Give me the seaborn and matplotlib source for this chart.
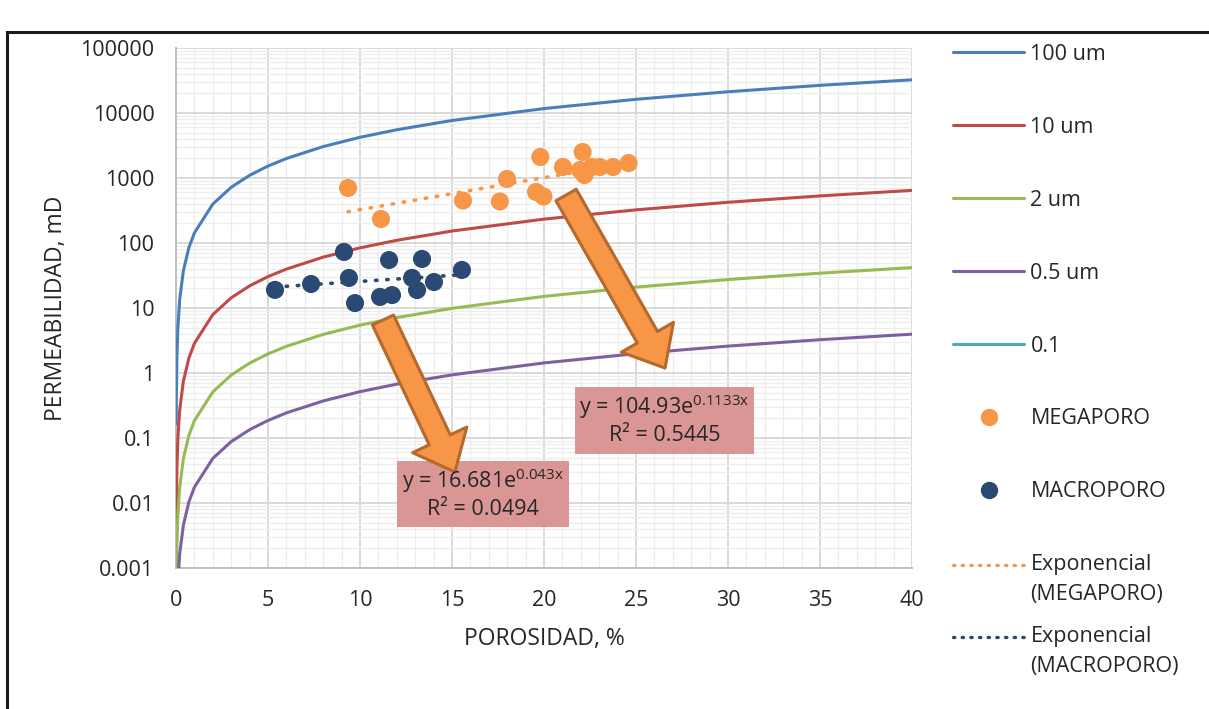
import numpy as np
import pandas as pd
import matplotlib
matplotlib.use("Agg")
import matplotlib.pyplot as plt
import seaborn as sns
from matplotlib.lines import Line2D
from matplotlib.patches import Rectangle
from matplotlib.legend_handler import HandlerLine2D
from matplotlib.ticker import FixedLocator, MultipleLocator, LogLocator, NullFormatter

# ---------------- data ----------------
phi = [0.01, 0.02, 0.05, 0.1, 0.2, 0.4, 0.7, 1, 2, 3, 4, 5, 6, 8, 10, 12, 15, 20, 25, 30, 35, 40]
k_100um = [0.165, 0.457, 1.76, 4.87, 13.5, 37.3, 84.9, 143, 397, 720, 1100, 1526, 1995, 3044,
           4226, 5525, 7669, 11700, 16240, 21230, 26630, 32400]
k_10um = [0.00329, 0.0091, 0.035, 0.0969, 0.268, 0.743, 1.69, 2.86, 7.91, 14.35, 21.9, 30.4,
          39.7, 60.6, 84.2, 110, 152.8, 233, 323.6, 423, 530, 645]
k_2um = [0.000213, 0.00059, 0.00227, 0.00627, 0.0174, 0.0481, 0.1095, 0.185, 0.512, 0.929,
         1.418, 1.968, 2.573, 3.926, 5.45, 7.12, 9.89, 15.09, 20.95, 27.38, 34.35, 41.8]
k_05um = [0.0000202, 0.0000558, 0.000215, 0.000594, 0.001645, 0.00455, 0.01037, 0.0175, 0.0485,
          0.088, 0.1342, 0.1863, 0.2435, 0.3716, 0.516, 0.6745, 0.936, 1.429, 1.983, 2.592,
          3.252, 3.957]
curve_names = ["100 um", "10 um", "2 um", "0.5 um", "0.1"]

mega_phi = [9.35, 11.14, 15.6, 17.6, 17.99, 19.8, 19.57, 19.97, 21.03, 22.1, 21.96, 22.2,
            22.6, 23.04, 23.75, 24.6]
mega_k = [702, 234, 450, 435, 966, 2106, 610, 520, 1476, 2512, 1328, 1112, 1476, 1476, 1476, 1700]

macro_phi = [5.38, 7.34, 9.13, 9.4, 9.73, 11.09, 11.74, 11.58, 13.37, 12.83, 13.1, 14.02, 15.54]
macro_k = [19, 23.4, 72.8, 29, 11.9, 14.8, 15.8, 54.7, 56.8, 29, 18.9, 25.1, 38.5]

# exponential trend coefficients (as printed on chart)
mega_a, mega_b, mega_r2 = 104.93, 0.1133, 0.5445
macro_a, macro_b, macro_r2 = 16.681, 0.043, 0.0494

yticks = [0.001, 0.01, 0.1, 1, 10, 100, 1000, 10000, 100000]
ytick_labels = ["0.001", "0.01", "0.1", "1", "10", "100", "1000", "10000", "100000"]
xticks = [0, 5, 10, 15, 20, 25, 30, 35, 40]

# ---------------- style ----------------
sns.set_style("white")
plt.rcParams["font.family"] = ["Open Sans", "DejaVu Sans"]
TXT = "#262626"
C_BLUE, C_RED, C_GREEN, C_PURPLE, C_CYAN = "#4A7EBB", "#BE4B48", "#98B954", "#7D60A0", "#46AAC5"
C_ORANGE, C_NAVY = "#F79646", "#2A4A73"
LW = 2.2

fig = plt.figure(figsize=(12.09, 7.09), dpi=100)
ax = fig.add_axes([176 / 1209, 1 - 568 / 709, 736 / 1209, 520 / 709])

df = pd.DataFrame({
    "phi": phi * 4,
    "k": k_100um + k_10um + k_2um + k_05um,
    "radio": sum([[n] * len(phi) for n in curve_names[:4]], []),
})
sns.lineplot(data=df, x="phi", y="k", hue="radio", hue_order=curve_names[:4],
             palette=[C_BLUE, C_RED, C_GREEN, C_PURPLE], estimator=None, sort=False,
             lw=LW, legend=False, ax=ax, zorder=3)

# trend lines
mx = np.array([min(mega_phi), max(mega_phi)])
bx = np.array([min(macro_phi), max(macro_phi)])
ax.plot(mx, mega_a * np.exp(mega_b * mx), color=C_ORANGE, lw=2.6,
        ls=(0, (0.4, 2.7)), dash_capstyle="round", zorder=4)
ax.plot(bx, macro_a * np.exp(macro_b * bx), color=C_NAVY, lw=2.6,
        ls=(0, (0.4, 2.7)), dash_capstyle="round", zorder=4)

sns.scatterplot(x=mega_phi, y=mega_k, color=C_ORANGE, s=170, edgecolor="none", ax=ax, zorder=5)
sns.scatterplot(x=macro_phi, y=macro_k, color=C_NAVY, s=170, edgecolor="none", ax=ax, zorder=5)

ax.set_yscale("log")
ax.set_xlim(0, 40)
ax.set_ylim(0.001, 100000)
ax.xaxis.set_major_locator(FixedLocator(xticks))
ax.xaxis.set_minor_locator(MultipleLocator(1))
ax.yaxis.set_major_locator(FixedLocator(yticks))
ax.set_yticklabels(ytick_labels)
ax.yaxis.set_minor_locator(LogLocator(base=10, subs=np.arange(2, 10), numticks=100))
ax.yaxis.set_minor_formatter(NullFormatter())
ax.grid(which="major", color="#D9D9D9", lw=1.4)
ax.grid(which="minor", color="#EDEDED", lw=0.9)
ax.set_axisbelow(True)
for s in ["top", "right"]:
    ax.spines[s].set_visible(False)
for s in ["left", "bottom"]:
    ax.spines[s].set_color("#BFBFBF")
    ax.spines[s].set_linewidth(1.4)
ax.tick_params(which="major", width=1.2, color="#BFBFBF", labelsize=15.5, labelcolor=TXT)
ax.tick_params(axis="x", which="major", length=5, pad=11)
ax.tick_params(axis="y", which="major", length=6, pad=9.5)
ax.tick_params(which="minor", length=0)
ax.set_xlabel("POROSIDAD, %", fontsize=16.5, color=TXT, labelpad=11)
ax.set_ylabel("PERMEABILIDAD, mD", fontsize=16.5, color=TXT, labelpad=9)

# equation boxes
boxes = [((397, 461, 569, 527), r"y = 16.681e$\mathregular{^{0.043x}}$", "R² = 0.0494"),
         ((575, 387, 754, 454), r"y = 104.93e$\mathregular{^{0.1133x}}$", "R² = 0.5445")]
for (x0, y0, x1, y1), l1, l2 in boxes:
    fx0, fx1 = (x0 - 176) / 736, (x1 - 176) / 736
    fy0, fy1 = (568 - y1) / 520, (568 - y0) / 520
    ax.add_patch(Rectangle((fx0, fy0), fx1 - fx0, fy1 - fy0, transform=ax.transAxes,
                           facecolor="#D99694", edgecolor="none", zorder=6))
    cx = (fx0 + fx1) / 2
    ax.text(cx, fy0 + (fy1 - fy0) * 0.70, l1, transform=ax.transAxes, ha="center",
            va="center", fontsize=15.5, color=TXT, zorder=8)
    ax.text(cx, fy0 + (fy1 - fy0) * 0.27, l2, transform=ax.transAxes, ha="center",
            va="center", fontsize=15.5, color=TXT, zorder=8)

# arrows
arrow_style = "simple,head_length=1.6,head_width=2.7,tail_width=1.05"
for tail, head in [((11.25, 6.53), (15.16, 0.030)), ((21.2, 547), (26.58, 1.19))]:
    ax.annotate("", xy=head, xytext=tail,
                arrowprops=dict(arrowstyle=arrow_style, mutation_scale=16, fc=C_ORANGE,
                                ec="#B5692C", lw=2.2, shrinkA=0, shrinkB=0), zorder=7)


class ShiftedLineHandler(HandlerLine2D):
    """Legend line drawn level with the first text line of a two-line label."""

    def __init__(self, shift, **kw):
        super().__init__(**kw)
        self.shift = shift

    def create_artists(self, legend, orig_handle, xdescent, ydescent, width, height,
                       fontsize, trans):
        arts = super().create_artists(legend, orig_handle, xdescent, ydescent, width,
                                      height, fontsize, trans)
        for a in arts:
            a.set_ydata(np.asarray(a.get_ydata()) + self.shift)
        return arts


# legends
h_single = [Line2D([], [], color=c, lw=LW) for c in [C_BLUE, C_RED, C_GREEN, C_PURPLE, C_CYAN]]
h_single += [Line2D([], [], ls="none", marker="o", ms=12.5, color=C_ORANGE, mec="none"),
             Line2D([], [], ls="none", marker="o", ms=12.5, color=C_NAVY, mec="none")]
lab_single = curve_names + ["MEGAPORO", "MACROPORO"]
leg1 = fig.legend(h_single, lab_single, loc="upper left",
                  bbox_to_anchor=(953 / 1209, 1 - 44 / 709), frameon=False, fontsize=15.5,
                  handlelength=3.3, handletextpad=0.3, labelspacing=2.41, labelcolor=TXT,
                  borderaxespad=0, borderpad=0)
h_trend = [Line2D([], [], color=C_ORANGE, lw=2.4, ls=(0, (0.4, 2.2)), dash_capstyle="round"),
           Line2D([], [], color=C_NAVY, lw=2.4, ls=(0, (0.4, 2.2)), dash_capstyle="round")]
leg2 = fig.legend(h_trend, ["Exponencial\n(MEGAPORO)", "Exponencial\n(MACROPORO)"],
                  loc="upper left", bbox_to_anchor=(953 / 1209, 1 - 554 / 709), frameon=False,
                  fontsize=15.5, handlelength=3.3, handletextpad=0.3, labelspacing=0.98,
                  labelcolor=TXT, borderaxespad=0, borderpad=0,
                  handler_map={h: ShiftedLineHandler(11.0) for h in h_trend})
for t in leg2.get_texts():
    t.set_linespacing(1.56)

# outer chart frame
fig.add_artist(Rectangle((7 / 1209, -0.05), 1.2, 1 - 32 / 709 + 0.05, transform=fig.transFigure,
                         facecolor="none", edgecolor="#1A1A1A", lw=2.2))

fig.savefig("out.png", dpi=100)
